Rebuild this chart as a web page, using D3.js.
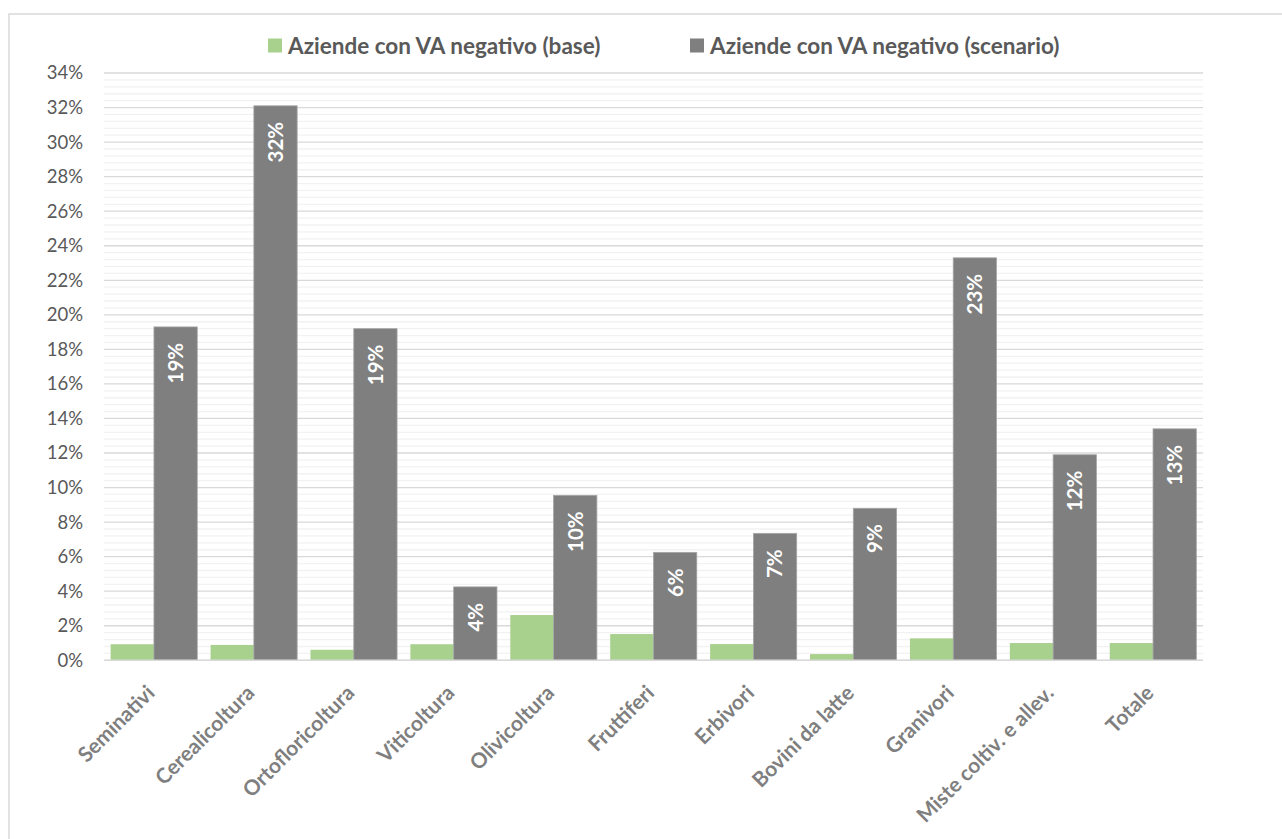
<!DOCTYPE html>
<html><head><meta charset="utf-8">
<script src="https://cdn.jsdelivr.net/npm/d3@7"></script>
<style>body{margin:0;background:#fff;} svg{display:block;font-family:Lato,"Open Sans",sans-serif;}</style>
</head><body>
<svg id="c" width="1282" height="839"></svg>
<script>
const categories = ["Seminativi","Cerealicoltura","Ortofloricoltura","Viticoltura","Olivicoltura","Fruttiferi","Erbivori","Bovini da latte","Granivori","Miste coltiv. e allev.","Totale"];
const seriesNames = ["Aziende con VA negativo (base)","Aziende con VA negativo (scenario)"];
const baseValues = [0.93,0.89,0.61,0.93,2.62,1.52,0.94,0.36,1.27,1.0,1.0];
const scenarioValues = [19.3,32.1,19.2,4.25,9.55,6.25,7.35,8.8,23.3,11.9,13.4];
const yTicks = [0,2,4,6,8,10,12,14,16,18,20,22,24,26,28,30,32,34];
const colors = ["#a9d18e","#7f7f7f"];

const svg = d3.select("#c");
const L=104, R=1203, T=73, B=660.3;

svg.append("rect").attr("x",9).attr("y",14).attr("width",1300).attr("height",900)
  .attr("fill","#fff").attr("stroke","#d9d9d9").attr("stroke-width",1.5);

const y = d3.scaleLinear().domain([0,34]).range([B,T]);
const x = d3.scaleBand().domain(categories).range([L,R]).paddingInner(0.1333).paddingOuter(0.0667);
const x1 = d3.scaleBand().domain([0,1]).range([0,x.bandwidth()]);

// minor grid
const minor = d3.range(0,34.001,0.4).filter(v=>Math.abs(v/2-Math.round(v/2))>0.01);
svg.append("g").selectAll("line").data(minor).join("line")
  .attr("x1",L).attr("x2",R).attr("y1",d=>y(d)).attr("y2",d=>y(d))
  .attr("stroke","#f2f2f2").attr("stroke-width",1.3);
// major grid
svg.append("g").selectAll("line").data(yTicks).join("line")
  .attr("x1",L).attr("x2",R).attr("y1",d=>y(d)).attr("y2",d=>y(d))
  .attr("stroke","#d9d9d9").attr("stroke-width",1.3);

// y axis labels
const yAxis = d3.axisLeft(y).tickValues(yTicks).tickFormat(d=>d+"%").tickSize(0).tickPadding(21);
const ga = svg.append("g").attr("transform",`translate(${L},0)`).call(yAxis);
ga.select(".domain").remove();
ga.selectAll("text").attr("fill","#595959").style("font-size","18.5px").style("font-family","Lato");

// bars
const groups = svg.append("g").selectAll("g").data(categories).join("g")
  .attr("transform",d=>`translate(${x(d)},0)`);
groups.append("rect").attr("x",x1(0)).attr("width",x1.bandwidth())
  .attr("y",(d,i)=>y(baseValues[i])).attr("height",(d,i)=>B-y(baseValues[i])).attr("fill",colors[0]);
groups.append("rect").attr("x",x1(1)).attr("width",x1.bandwidth())
  .attr("y",(d,i)=>y(scenarioValues[i])).attr("height",(d,i)=>B-y(scenarioValues[i])).attr("fill",colors[1])
  .attr("stroke","#a6a6a6").attr("stroke-width",0.8);
groups.append("text")
  .attr("transform",(d,i)=>`translate(${x1(1)+x1.bandwidth()/2},${y(scenarioValues[i])+16}) rotate(-90)`)
  .attr("text-anchor","end").attr("dy","0.36em")
  .attr("fill","#fff").style("font-weight","bold").style("font-size","20.5px")
  .text((d,i)=>Math.round(scenarioValues[i])+"%");

// baseline
svg.append("line").attr("x1",L).attr("x2",R).attr("y1",B).attr("y2",B).attr("stroke","#d9d9d9").attr("stroke-width",1.5);

// x labels
const xAxis = d3.axisBottom(x).tickSize(0);
const gx = svg.append("g").attr("transform",`translate(0,${B})`).call(xAxis);
gx.select(".domain").remove();
gx.selectAll("text").attr("y",0).attr("dy",0)
  .attr("transform","translate(-4,28) rotate(-45)").attr("text-anchor","end")
  .attr("dominant-baseline","central")
  .attr("fill","#7f7f7f").style("font-weight","bold").style("font-size","21px").style("font-family","Lato");

// legend
const legX = [268,690];
const lg = svg.append("g").selectAll("g").data(seriesNames).join("g")
  .attr("transform",(d,i)=>`translate(${legX[i]},45.5)`);
lg.append("rect").attr("x",0).attr("y",-7).attr("width",14).attr("height",14).attr("fill",(d,i)=>colors[i]);
lg.append("text").attr("x",20).attr("dy","0.36em").attr("fill","#595959")
  .style("font-weight","bold").style("font-size","22.5px").text(d=>d);
</script>
</body></html>
